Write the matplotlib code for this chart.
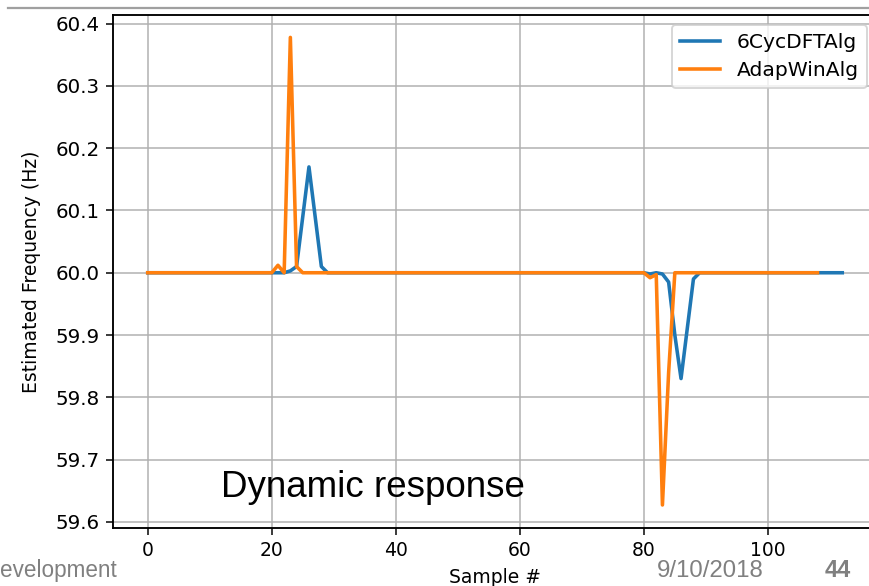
import matplotlib
matplotlib.use("Agg")
import matplotlib.pyplot as plt

# ---- data -------------------------------------------------------------
dft_samples = list(range(0, 113))
dft_freq = [60.0] * 113
dft_events = {23: 60.003, 24: 60.01, 25: 60.09, 26: 60.17, 27: 60.09, 28: 60.01,
              81: 59.998, 82: 60.0, 83: 59.998, 84: 59.985, 85: 59.90, 86: 59.83,
              87: 59.91, 88: 59.99}
for k, v in dft_events.items():
    dft_freq[k] = v

adap_samples = list(range(0, 109))
adap_freq = [60.0] * 109
adap_events = {21: 60.012, 22: 60.0, 23: 60.378, 24: 60.01,
               81: 59.992, 82: 59.997, 83: 59.627, 84: 59.84}
for k, v in adap_events.items():
    adap_freq[k] = v

series_names = ["6CycDFTAlg", "AdapWinAlg"]
x_ticks = [0, 20, 40, 60, 80, 100]
y_ticks = [59.6, 59.7, 59.8, 59.9, 60.0, 60.1, 60.2, 60.3, 60.4]

# ---- figure -----------------------------------------------------------
W, H, DPI = 869, 586, 135
fig = plt.figure(figsize=(W / DPI, H / DPI), dpi=DPI, facecolor="white")

ax = fig.add_axes([113 / W, 1 - 528 / H, 764 / W, 513 / H])
ax.plot(dft_samples, dft_freq, color="#1f77b4", lw=1.9, label=series_names[0])
ax.plot(adap_samples, adap_freq, color="#ff7f0e", lw=1.9, label=series_names[1])

ax.set_xlim(-5.6, 117.6)
ax.set_ylim(59.590, 60.414)
ax.set_xticks(x_ticks)
ax.set_yticks(y_ticks)
ax.set_yticklabels([f"{v:.1f}" for v in y_ticks])
ax.tick_params(axis="y", labelsize=10.6)
ax.grid(True, color="#b0b0b0", lw=0.8)
ax.set_axisbelow(True)
ax.set_xlabel("Sample #")
ax.set_ylabel("Estimated Frequency (Hz)", labelpad=8)
for s in ax.spines.values():
    s.set_linewidth(1.0)
ax.legend(loc="upper right", fontsize=10.8, labelspacing=0.42)

fig.text(221 / W, 1 - 497 / H, "Dynamic response", fontsize=19.6,
         family="Liberation Sans", color="black", ha="left", va="baseline")

# ---- slide decorations --------------------------------------------------
fig.add_artist(plt.Line2D([8 / W, 1.0], [1 - 8 / H, 1 - 8 / H],
                          transform=fig.transFigure, color="#a0a0a0", lw=1.2))

fig.text(0 / W, 1 - 577 / H, "evelopment", family="Liberation Sans", fontsize=12,
         color="#808080", ha="left", va="baseline")
fig.text(764 / W, 1 - 577 / H, "9/10/2018", family="Liberation Sans", fontsize=12.8,
         color="#808080", ha="right", va="baseline")
fig.text(825 / W, 1 - 577 / H, "44", family="Liberation Sans", fontsize=12.5,
         fontweight="bold", color="#808080", ha="left", va="baseline")

fig.savefig("out.png", dpi=DPI)
